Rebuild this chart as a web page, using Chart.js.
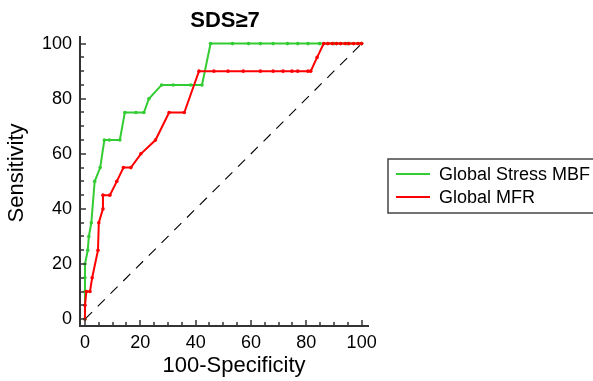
<!DOCTYPE html>
<html>
<head>
<meta charset="utf-8">
<script src="https://cdn.jsdelivr.net/npm/chart.js@4"></script>
<style>
  html, body { margin: 0; padding: 0; background: #fff; }
  #wrap { width: 593px; height: 381px; position: relative; }
</style>
</head>
<body>
<div id="wrap"><canvas id="rocChart"></canvas></div>
<script>
// ROC curves, values
const chartTitle = 'SDS\u22657';
const xTitle = '100-Specificity';
const yTitle = 'Sensitivity';
const seriesNames = ['Global Stress MBF', 'Global MFR'];
const seriesColors = ['#33cc33', '#ff0000'];

const stressX = [0, 0, 0, 0, 1, 1.4, 2.3, 3.5, 5.5, 7, 8.8, 12.6, 14.4, 18.4, 21.3, 23.1, 27.7, 31.9, 38.2, 42.3,
                 45.4, 53.3, 59.1, 63.4, 68, 73.2, 76.9, 80.6, 84.8, 90, 95, 100];
const stressY = [0, 10, 15, 20, 25, 30, 35, 50, 55, 65, 65, 65, 75, 75, 75, 80, 85, 85, 85, 85,
                 100, 100, 100, 100, 100, 100, 100, 100, 100, 100, 100, 100];

const mfrX = [0, 0, 0.5, 1.8, 2.6, 4.7, 5, 6.5, 6.5, 9, 11.5, 13.9, 16.6, 20.2, 25.5, 30.4, 35.9, 41.2, 46.6,
              51.7, 57.2, 63.4, 68, 71.6, 74.8, 76.9, 80.6, 81.6, 83.9, 86.3, 87.8, 89.4, 90.9, 92.4, 94.1,
              95.4, 97.1, 98.7, 100];
const mfrY = [0, 5, 10, 10, 15, 25, 35, 40, 45, 45, 50, 55, 55, 60, 65, 75, 75, 90, 90,
              90, 90, 90, 90, 90, 90, 90, 90, 90, 95, 100, 100, 100, 100, 100, 100,
              100, 100, 100, 100];

const diagX = [0, 100];
const diagY = [0, 100];

const xTickLabels = [0, 20, 40, 60, 80, 100];
const yTickLabels = [0, 20, 40, 60, 80, 100];
const minorStep = 5;

const fontFamily = '"Liberation Sans", Arial, sans-serif';

function toPoints(xs, ys) {
    return xs.map((x, i) => ({ x: x, y: ys[i] }));
}

// inward tick marks, titles and boxed legend
const decorPlugin = {
    id: 'decor',
    afterDraw(chart) {
        const ctx = chart.ctx;
        const area = chart.chartArea;
        const xs = chart.scales.x;
        const ys = chart.scales.y;
        ctx.save();
        ctx.strokeStyle = '#333';
        ctx.lineWidth = 1.5;
        for (let v = 0; v <= 100; v += minorStep) {
            const major = xTickLabels.includes(v);
            const len = major ? 6 : 4;
            const px = Math.round(xs.getPixelForValue(v));
            ctx.beginPath();
            ctx.moveTo(px, area.bottom);
            ctx.lineTo(px, area.bottom - len);
            ctx.stroke();
            const py = Math.round(ys.getPixelForValue(v));
            ctx.beginPath();
            ctx.moveTo(area.left, py);
            ctx.lineTo(area.left + len, py);
            ctx.stroke();
        }

        ctx.fillStyle = '#000';
        ctx.textAlign = 'center';
        ctx.textBaseline = 'middle';
        ctx.font = 'bold 22px ' + fontFamily;
        ctx.fillText(chartTitle, 225, 21);

        // axis titles
        ctx.font = '22px ' + fontFamily;
        ctx.fillText(xTitle, 234, 366);
        ctx.save();
        ctx.translate(17, 173);
        ctx.rotate(-Math.PI / 2);
        ctx.fillText(yTitle, 0, 0);
        ctx.restore();

        // legend box
        const boxX = 388, boxY = 159, boxW = 220, boxH = 54;
        ctx.strokeStyle = '#444';
        ctx.lineWidth = 1.5;
        ctx.strokeRect(boxX, boxY, boxW, boxH);
        ctx.font = '18px ' + fontFamily;
        ctx.textAlign = 'left';
        const rows = [174, 197];
        seriesNames.forEach((name, i) => {
            ctx.strokeStyle = seriesColors[i];
            ctx.lineWidth = 2;
            ctx.beginPath();
            ctx.moveTo(396, rows[i]);
            ctx.lineTo(430, rows[i]);
            ctx.stroke();
            ctx.fillStyle = '#000';
            ctx.fillText(name, 439, rows[i] + 1);
        });
        ctx.restore();
    }
};

const ctx = document.getElementById('rocChart');
new Chart(ctx, {
    type: 'line',
    data: {
        datasets: [
            {
                label: seriesNames[0],
                data: toPoints(stressX, stressY),
                borderColor: seriesColors[0],
                backgroundColor: seriesColors[0],
                borderWidth: 2,
                pointRadius: 1.8,
                pointBorderWidth: 0,
                tension: 0,
                order: 2
            },
            {
                label: seriesNames[1],
                data: toPoints(mfrX, mfrY),
                borderColor: seriesColors[1],
                backgroundColor: seriesColors[1],
                borderWidth: 2,
                pointRadius: 1.8,
                pointBorderWidth: 0,
                tension: 0,
                order: 1
            },
            {
                label: '',
                data: toPoints(diagX, diagY),
                borderColor: '#000',
                borderWidth: 1.1,
                borderDash: [10, 8],
                pointRadius: 0,
                order: 3
            }
        ]
    },
    options: {
        responsive: true,
        maintainAspectRatio: false,
        animation: false,
        layout: { padding: { left: 0, top: 37, right: 225, bottom: 0 } },
        plugins: {
            legend: { display: false },
            tooltip: { enabled: false }
        },
        scales: {
            x: {
                type: 'linear',
                min: -1.8,
                max: 102.3,
                afterFit: (scale) => { scale.height = 55; },
                afterBuildTicks: (scale) => { scale.ticks = xTickLabels.map(v => ({ value: v })); },
                ticks: {
                    color: '#000',
                    padding: -2,
                    maxRotation: 0,
                    font: { size: 18, family: fontFamily }
                },
                grid: { display: false },
                border: { display: true, color: '#333', width: 2 }
            },
            y: {
                type: 'linear',
                min: -2.5,
                max: 102.4,
                afterFit: (scale) => { scale.width = 80; },
                afterBuildTicks: (scale) => { scale.ticks = yTickLabels.map(v => ({ value: v })); },
                ticks: {
                    color: '#000',
                    padding: 0,
                    font: { size: 18, family: fontFamily }
                },
                grid: { display: false },
                border: { display: true, color: '#333', width: 2 }
            }
        }
    },
    plugins: [decorPlugin]
});
</script>
</body>
</html>
